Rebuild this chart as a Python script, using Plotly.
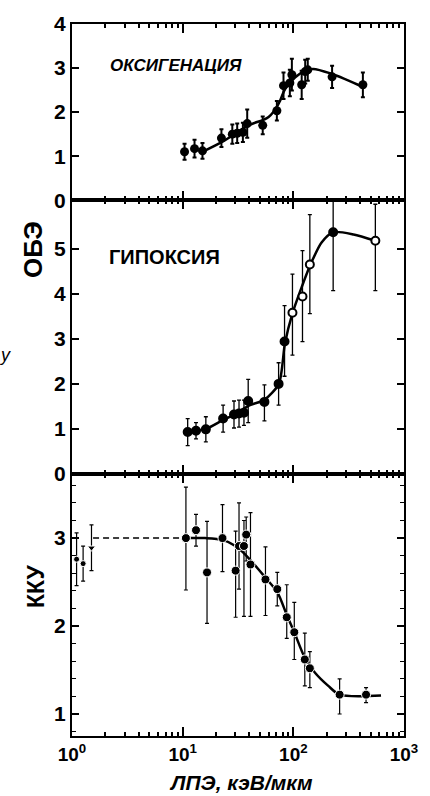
import plotly.graph_objects as go

# ---------------- data ----------------
x_tickvals = [1, 10, 100, 1000]
x_ticktext = ["10<sup>0</sup>", "10<sup>1</sup>", "10<sup>2</sup>", "10<sup>3</sup>"]
x_minor = [m * 10 ** e for e in range(3) for m in range(2, 10)]

top_yticks = [0, 1, 2, 3, 4]
mid_yticks = [0, 1, 2, 3, 4, 5]
bot_yticks = [1, 2, 3]

# Panel 1: оксигенация
oxy_x = [10.4, 12.8, 15.1, 22.4, 28.1, 31.1, 35.0, 38.3, 52.9, 71.0, 81.5, 93.0, 97.0, 119, 128, 135, 224, 425]
oxy_y = [1.10, 1.17, 1.12, 1.41, 1.50, 1.52, 1.54, 1.74, 1.70, 2.03, 2.60, 2.66, 2.85, 2.62, 2.92, 2.96, 2.80, 2.62]
oxy_err = [0.18, 0.20, 0.18, 0.20, 0.22, 0.22, 0.22, 0.32, 0.20, 0.22, 0.30, 0.30, 0.36, 0.32, 0.27, 0.25, 0.25, 0.28]
oxy_curve_x = [15.1, 22.9, 39.6, 59.8, 73.6, 84.5, 104, 128, 151, 221, 425]
oxy_curve_y = [1.10, 1.33, 1.70, 1.89, 2.19, 2.53, 2.79, 2.94, 2.98, 2.87, 2.57]

# Panel 2: гипоксия
hyp_x = [11.1, 13.2, 16.2, 23.2, 29.1, 32.3, 35.8, 39.1, 54.8, 73.6, 83.3, 98.2, 121, 141, 229, 551]
hyp_y = [0.93, 0.96, 0.99, 1.23, 1.32, 1.34, 1.36, 1.62, 1.60, 2.00, 2.94, 3.58, 3.94, 4.65, 5.37, 5.18]
hyp_err_plus = [0.30, 0.18, 0.28, 0.30, 0.30, 0.30, 0.28, 0.48, 0.38, 0.47, 0.80, 0.86, 1.02, 1.11, 1.30, 0.81]
hyp_err_minus = [0.30, 0.18, 0.28, 0.30, 0.30, 0.30, 0.28, 0.48, 0.42, 0.47, 0.77, 0.94, 1.00, 1.09, 1.30, 1.11]
hyp_open = [0, 0, 0, 0, 0, 0, 0, 0, 0, 0, 0, 1, 1, 1, 0, 1]
hyp_curve_x = [11.1, 16.2, 23.2, 30, 40, 55, 74, 84, 98, 119, 141, 180, 230, 350, 551]
hyp_curve_y = [0.93, 1.00, 1.20, 1.33, 1.52, 1.65, 2.00, 2.90, 3.56, 4.15, 4.62, 5.14, 5.37, 5.32, 5.18]

# Panel 3: ККУ
kku_x = [1.1, 1.26, 1.5, 10.7, 13.2, 16.6, 22.9, 30.1, 32.3, 35.8, 37.5, 41.0, 56, 71.6, 87.2, 102, 127, 141, 262, 454]
kku_y = [2.76, 2.71, 2.89, 3.00, 3.09, 2.61, 3.00, 2.63, 2.91, 2.91, 3.04, 2.70, 2.53, 2.42, 2.10, 1.93, 1.62, 1.52, 1.22, 1.22]
kku_err_plus = [0.30, 0.20, 0.26, 0.58, 0.18, 0.58, 0.38, 0.45, 0.49, 0.29, 0.20, 0.59, 0.37, 0.19, 0.37, 0.34, 0.30, 0.19, 0.18, 0.08]
kku_err_minus = [0.30, 0.20, 0.26, 0.59, 0.18, 0.58, 0.38, 0.53, 0.49, 0.80, 0.30, 0.59, 0.41, 0.19, 0.24, 0.31, 0.30, 0.22, 0.22, 0.09]
kku_symbol = ["circle", "circle", "triangle-down"] + ["circle"] * 17
kku_curve_x = [10.7, 16, 23, 30, 37, 56, 72, 87, 102, 127, 157, 207, 262, 620]
kku_curve_y = [3.00, 3.00, 2.98, 2.91, 2.81, 2.55, 2.38, 2.13, 1.93, 1.64, 1.47, 1.32, 1.22, 1.21]
kku_dash_x = [1.55, 10.7]
kku_dash_y = [3.0, 3.0]

# ---------------- layout helpers ----------------
W, H = 430, 796
ML, MR, MT, MB = 71.5, 23.5, 18, 60
PW, PH = W - ML - MR, H - MT - MB


def xp(px):
    return (px - ML) / PW


def yp(py):
    return (H - MB - py) / PH


FONT = "Liberation Sans"
fig = go.Figure()

# panel 1
fig.add_trace(go.Scatter(x=oxy_curve_x, y=oxy_curve_y, mode="lines",
                         line=dict(color="black", width=2.5, shape="spline", smoothing=1.0),
                         xaxis="x", yaxis="y", hoverinfo="skip"))
fig.add_trace(go.Scatter(x=oxy_x, y=oxy_y, mode="markers",
                         marker=dict(color="black", size=9, opacity=1),
                         error_y=dict(type="data", array=oxy_err, color="black", thickness=2, width=2),
                         xaxis="x", yaxis="y"))

# panel 2
fig.add_trace(go.Scatter(x=hyp_curve_x, y=hyp_curve_y, mode="lines",
                         line=dict(color="black", width=2.5, shape="spline", smoothing=0.7),
                         xaxis="x2", yaxis="y2", hoverinfo="skip"))
fig.add_trace(go.Scatter(x=hyp_x, y=hyp_y, mode="markers",
                         marker=dict(color=["white" if o else "black" for o in hyp_open], size=8,
                                     opacity=1, line=dict(color="black", width=2)),
                         error_y=dict(type="data", symmetric=False, array=hyp_err_plus,
                                      arrayminus=hyp_err_minus, color="black", thickness=1.3, width=2),
                         xaxis="x2", yaxis="y2"))

# panel 3
fig.add_trace(go.Scatter(x=kku_dash_x, y=kku_dash_y, mode="lines",
                         line=dict(color="black", width=1.5, dash="6px,4px"),
                         xaxis="x3", yaxis="y3", hoverinfo="skip"))
fig.add_trace(go.Scatter(x=kku_curve_x, y=kku_curve_y, mode="lines",
                         line=dict(color="black", width=2.5, shape="spline", smoothing=0.8),
                         xaxis="x3", yaxis="y3", hoverinfo="skip"))
fig.add_trace(go.Scatter(x=kku_x, y=kku_y, mode="markers",
                         marker=dict(color="black", size=[6, 6, 7] + [9] * 17, symbol=kku_symbol,
                                     opacity=1),
                         error_y=dict(type="data", symmetric=False, array=kku_err_plus,
                                      arrayminus=kku_err_minus, color="black", thickness=1.2, width=2),
                         xaxis="x3", yaxis="y3"))

d_top = [yp(195.7), 1.0]
d_mid = [yp(471.7), yp(195.7)]
d_bot = [0.0, yp(471.7)]

tickfont_y = dict(family=FONT, size=21, color="black", weight="bold")


def xaxis(anchor, labels):
    return dict(type="log", range=[0, 3], domain=[0, 1], anchor=anchor,
                showline=True, linecolor="black", linewidth=2, mirror="ticks",
                ticks="inside", ticklen=9, tickwidth=1.5, tickcolor="black",
                tickvals=x_tickvals, ticktext=x_ticktext, showticklabels=labels,
                tickfont=dict(family=FONT, size=19, color="black", weight="bold"),
                minor=dict(tickvals=x_minor, ticks="inside", ticklen=4, tickwidth=1.5,
                           tickcolor="black", showgrid=False),
                showgrid=False, zeroline=False)


def yaxis(anchor, dom, rng, tv, minor=None):
    d = dict(domain=dom, range=rng, anchor=anchor,
             showline=True, linecolor="black", linewidth=2, mirror="ticks",
             ticks="inside", ticklen=7, tickwidth=1.5, tickcolor="black",
             tickvals=tv, tickfont=tickfont_y, showgrid=False, zeroline=False)
    if minor:
        d["minor"] = minor
    return d


fig.update_layout(
    width=W, height=H,
    margin=dict(l=ML, r=MR, t=MT, b=MB, pad=0),
    paper_bgcolor="white", plot_bgcolor="white",
    showlegend=False,
    xaxis=xaxis("y", False),
    xaxis2=xaxis("y2", False),
    xaxis3=xaxis("y3", True),
    yaxis=yaxis("x", d_top, [0, 4], top_yticks),
    yaxis2=yaxis("x2", d_mid, [0, 6.08], mid_yticks),
    yaxis3=yaxis("x3", d_bot, [0.75, 3.73], bot_yticks,
                 minor=dict(dtick=0.2, ticks="inside", ticklen=4, tickwidth=1.2,
                            tickcolor="black", showgrid=False)),
)

ann = [
    dict(text="ОКСИГЕНАЦИЯ", x=xp(176), y=yp(60),
         font=dict(family=FONT, size=17, color="black", weight="bold", style="italic")),
    dict(text="ГИПОКСИЯ", x=xp(165), y=yp(253),
         font=dict(family=FONT, size=20, color="black", weight="bold")),
    dict(text="ОБЭ", x=xp(32), y=yp(245), textangle=-90,
         font=dict(family=FONT, size=26, color="black", weight="bold")),
    dict(text="ККУ", x=xp(35), y=yp(585), textangle=-90,
         font=dict(family=FONT, size=23, color="black", weight="bold")),
    dict(text="ЛПЭ, кэВ/мкм", x=xp(242), y=yp(783),
         font=dict(family=FONT, size=21, color="black", weight="bold", style="italic")),
    dict(text="у", x=xp(4), y=yp(352),
         font=dict(family=FONT, size=18, color="black", style="italic")),
]
for a in ann:
    a.update(xref="paper", yref="paper", showarrow=False, xanchor="center", yanchor="middle")
fig.update_layout(annotations=ann)

fig.write_html("out.html")
